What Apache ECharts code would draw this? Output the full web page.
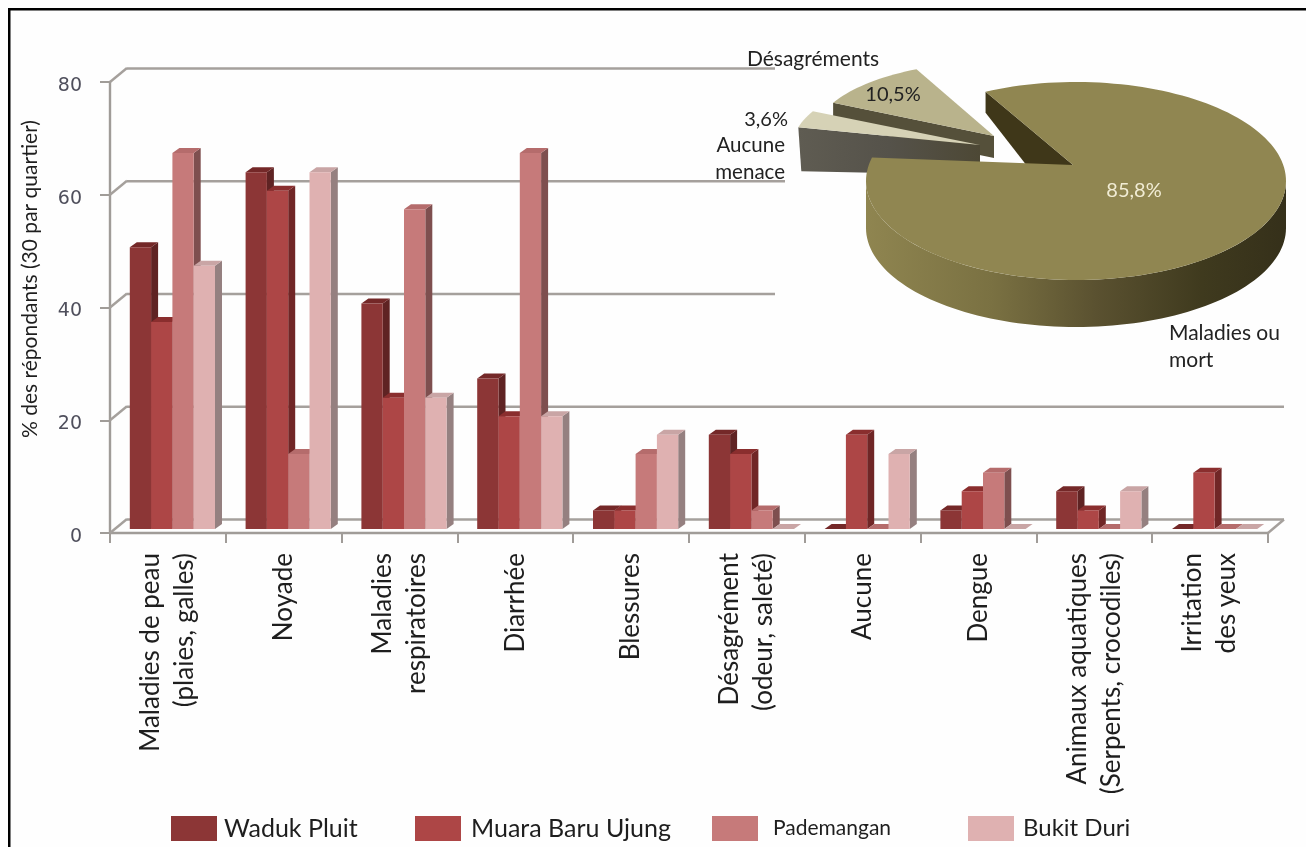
<!DOCTYPE html>
<html><head><meta charset="utf-8">
<style>html,body{margin:0;padding:0;background:#fff}#c{width:1306px;height:847px}</style>
<script src="https://cdn.jsdelivr.net/npm/echarts@6/dist/echarts.min.js"></script>
</head><body><div id="c"></div>
<script>
const categories = ['Maladies de peau\n(plaies, galles)','Noyade','Maladies\nrespiratoires','Diarrhée','Blessures','Désagrément\n(odeur, saleté)','Aucune','Dengue','Animaux aquatiques\n(Serpents, crocodiles)','Irritation\ndes yeux'];
const wadukPluit = [50,63.3,40,26.7,3.3,16.7,0,3.3,6.7,0];
const muaraBaruUjung = [36.7,60,23.3,20,3.3,13.3,16.7,6.7,3.3,10];
const pademangan = [66.7,13.3,56.7,66.7,13.3,3.3,0,10,0,0];
const bukitDuri = [46.7,63.3,23.3,20,16.7,0,13.3,0,6.7,0];
const yTicks = [0,20,40,60,80];
const wallLineEnds = [1284,1284,775,785,775];
const pieNames = ['Maladies ou\nmort','Désagréments','Aucune\nmenace'];
const pieValues = [85.8,10.5,3.6];

const palette = [
 {n:'Waduk Pluit',d:wadukPluit,front:'#8c3636',top:'#742828',side:'#5f2323'},
 {n:'Muara Baru Ujung',d:muaraBaruUjung,front:'#ad4646',top:'#8a2e2e',side:'#702626'},
 {n:'Pademangan',d:pademangan,front:'#c67a7a',top:'#b56c6c',side:'#7e4f4f'},
 {n:'Bukit Duri',d:bukitDuri,front:'#dfb1b1',top:'#c9a5a5',side:'#958080'}
];
const DX=7, DY=5, BW=21.3, BASE=4, SHIFT=4.5;
const font='Lato, Carlito, sans-serif';

function barSeries(p,si){
 return {type:'custom',name:p.n,itemStyle:{color:p.front},z:5+si,clip:false,
  data:p.d.map((v,i)=>[i,v]),encode:{x:0,y:1},
  renderItem(params,api){
   const c=api.value(0),v=api.value(1);
   const t=api.coord([c,v]), b=api.coord([c,0]);
   const x0=t[0]+SHIFT+(si-2)*BW, x1=x0+BW, yb=b[1]-BASE, yt=t[1]-BASE;
   const kids=[];
   kids.push({type:'polygon',shape:{points:[[x1,yt],[x1+DX,yt-DY],[x1+DX,yb-DY],[x1,yb]]},style:{fill:p.side}});
   kids.push({type:'polygon',shape:{points:[[x0,yt],[x0+DX,yt-DY],[x1+DX,yt-DY],[x1,yt]]},style:{fill:p.top}});
   if(v>0)kids.push({type:'rect',shape:{x:x0,y:yt,width:BW,height:yb-yt},style:{fill:p.front}});
   return {type:'group',children:kids};
  }};
}

const wallSeries={type:'custom',silent:true,z:2,clip:false,legendHoverLink:false,
 data:yTicks.map((v,i)=>[0,v,wallLineEnds[i]]),encode:{y:1},
 renderItem(params,api){
  const v=api.value(1),end=api.value(2);
  const p=api.coord([0,v]); const sz=api.size([1,0])[0];
  const xf=p[0]-sz/2, y=p[1];
  const st={stroke:'#a5a09c',lineWidth:2.4,fill:'none'};
  const kids=[
   {type:'line',shape:{x1:xf,y1:y,x2:xf+17,y2:y-14},style:st},
   {type:'line',shape:{x1:xf+17,y1:y-13.5,x2:end,y2:y-13.5},style:st}
  ];
  if(v===0){kids.push({type:'line',shape:{x1:end,y1:y-13.5,x2:end-16,y2:y},style:st});}
  return {type:'group',children:kids};
 }};

// 3D pie, angles from pieValues (clockwise from top, ellipse parameter)
const total=pieValues.reduce((a,b)=>a+b,0);
function ell(cx,cy,rx,ry,a,dy){const r=a*Math.PI/180;return [cx+rx*Math.sin(r),cy-ry*Math.cos(r)+(dy||0)];}
function arc(cx,cy,rx,ry,a0,a1,dy){const n=Math.max(4,Math.ceil(Math.abs(a1-a0)/2)),o=[];for(let i=0;i<=n;i++)o.push(ell(cx,cy,rx,ry,a0+(a1-a0)*i/n,dy));return o;}
const pieSeries={type:'custom',coordinateSystem:'none',silent:true,z:20,legendHoverLink:false,
 data:pieValues.map((v,i)=>[v,i]),
 renderItem(params,api){
  if(params.dataIndex!==0)return null;
  const sw=pieValues.map(v=>v/total*360);
  const s0=334.5, e0=s0+sw[0], a2=e0-360, a1=a2+sw[2];
  const kids=[];
  // Désagréments
  const D={ax:994,ay:136,R:180,r:74};
  const d0=ell(D.ax,D.ay,D.R,D.r,a1);
  kids.push({type:'polygon',shape:{points:[d0,[D.ax,D.ay],[D.ax,D.ay+22],[d0[0],d0[1]+22]]},style:{fill:'#55503a'}});
  kids.push({type:'polygon',shape:{points:[[D.ax,D.ay]].concat(arc(D.ax,D.ay,D.R,D.r,a1,s0))},style:{fill:'#b9b38c'}});
  // Aucune menace
  const A={ax:980,ay:145,R:187,r:75};
  const p0=ell(A.ax,A.ay,A.R,A.r,a2);
  kids.push({type:'polygon',shape:{points:[p0,[A.ax,A.ay],[A.ax,A.ay+30],[p0[0]+3,p0[1]+44]]},
   style:{fill:{type:'linear',x:0,y:0,x2:1,y2:0,colorStops:[{offset:0,color:'#5f5c52'},{offset:.5,color:'#55524a'},{offset:1,color:'#4d4835'}]}}});
  kids.push({type:'polygon',shape:{points:[[A.ax,A.ay]].concat(arc(A.ax,A.ay,A.R,A.r,a2,a1))},style:{fill:'#d6d2b6'}});
  // Main slice
  const M={cx:1076,cy:181,rx:210,ry:99,ax:1073,ay:165,h:47};
  const st=ell(M.cx,M.cy,M.rx,M.ry,s0);
  kids.push({type:'polygon',shape:{points:[st,[M.ax,M.ay],[M.ax,M.ay+60],[st[0],st[1]+21]]},style:{fill:'#3f3719'}});
  const top=arc(M.cx,M.cy,M.rx,M.ry,90,270), bot=arc(M.cx,M.cy,M.rx,M.ry,270,90,M.h);
  kids.push({type:'polygon',shape:{points:top.concat(bot)},
   style:{fill:{type:'linear',x:0,y:0,x2:1,y2:0,colorStops:[{offset:0,color:'#8f8550'},{offset:.3,color:'#7a7142'},{offset:.55,color:'#5a5130'},{offset:.8,color:'#3f3a1e'},{offset:1,color:'#35301a'}]}}});
  kids.push({type:'polygon',shape:{points:[[M.ax,M.ay]].concat(arc(M.cx,M.cy,M.rx,M.ry,s0,e0))},style:{fill:'#908651'}});
  const lb=(t,x,y,fill,al,sz,lh)=>({type:'text',z2:5,style:{text:t,x,y,fill,font:`${sz||20.5}px ${font}`,textAlign:al||'left',textVerticalAlign:'middle',lineHeight:lh||27}});
  kids.push(lb(pieValues[0].toFixed(1).replace('.',',')+'%',1134,191,'#f1ecd4','center',20));
  kids.push(lb(pieValues[1].toFixed(1).replace('.',',')+'%',893,95,'#222','center',20));
  kids.push(lb(pieValues[2].toFixed(1).replace('.',',')+'%',788,120,'#222','right',20));
  kids.push(lb(pieNames[1],813,59,'#222','center',21));
  kids.push(lb(pieNames[2],785,159,'#222','right'));
  kids.push(lb(pieNames[0],1169,347,'#222','left',21));
  return {type:'group',children:kids};
 }};

const legendX=[171,415,712,968];
const legendGap=[2,5,10,4];
const legendSize=[25,25,21,24];
const chart=echarts.init(document.getElementById('c'),null,{renderer:'canvas'});
chart.setOption({
 animation:false,backgroundColor:'#fefefe',
 grid:{left:110,right:38,top:82,bottom:314,containLabel:false},
 xAxis:{type:'category',data:categories,boundaryGap:true,
  axisLine:{lineStyle:{color:'#a09c98',width:2.4}},
  axisTick:{show:true,length:10,lineStyle:{color:'#a09c98',width:2},alignWithLabel:false},
  axisLabel:{interval:0,rotate:90,margin:20,color:'#1e1e1e',fontFamily:font,fontSize:26,lineHeight:34,align:'right',verticalAlign:'middle'},
  splitLine:{show:false}},
 yAxis:{type:'value',min:0,max:80,interval:20,
  axisLine:{show:true,lineStyle:{color:'#a09c98',width:2.4}},
  axisTick:{show:true,length:10,lineStyle:{color:'#a09c98',width:2}},
  axisLabel:{margin:28,formatter:'{a|{value}}',
   rich:{a:{color:'#4f4f5c',fontFamily:'DejaVu Sans',fontSize:19,padding:[8,0,0,0]}}},
  splitLine:{show:false}},
 legend:palette.map((p,i)=>({show:true,data:[p.n],left:legendX[i],top:816,padding:0,orient:'horizontal',itemWidth:46,itemHeight:25,itemGap:0,icon:'rect',selectedMode:false,
   textStyle:{fontFamily:font,fontSize:legendSize[i],color:'#1e1e1e',padding:[0,0,0,legendGap[i]]}})),
 graphic:[
  {type:'rect',z:100,shape:{x:8,y:8,width:1298,height:2.5},style:{fill:'#000'},silent:true},
  {type:'rect',z:100,shape:{x:8,y:8,width:2.5,height:839},style:{fill:'#000'},silent:true},
  {type:'text',z:50,silent:true,x:30,y:279,rotation:Math.PI/2,style:{text:'% des répondants (30 par quartier)',font:`21px ${font}`,fill:'#1e1e1e',textAlign:'center',textVerticalAlign:'middle'}}
 ],
 series:[wallSeries].concat(palette.map(barSeries),[pieSeries])
});
</script></body></html>
